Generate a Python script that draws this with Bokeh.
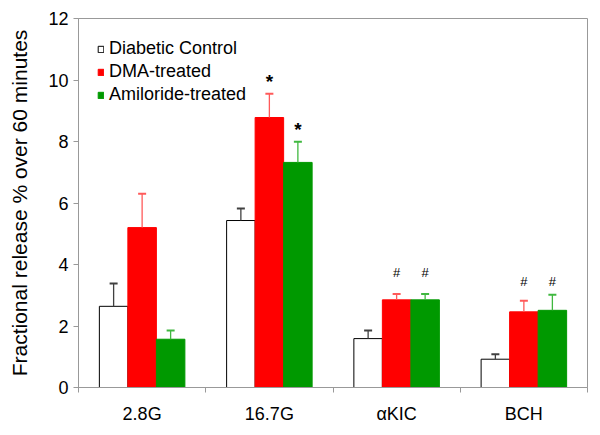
from bokeh.plotting import figure
from bokeh.models import Range1d, FixedTicker, Legend, LegendItem
from bokeh.core.properties import value
from bokeh.embed import file_html
from bokeh.resources import INLINE

categories = ["2.8G", "16.7G", "αKIC", "BCH"]
series_names = ["Diabetic Control", "DMA-treated", "Amiloride-treated"]
control = [2.64, 5.43, 1.59, 0.92]
control_err = [0.74, 0.39, 0.26, 0.16]
dma = [5.20, 8.78, 2.85, 2.46]
dma_err = [1.10, 0.77, 0.19, 0.36]
amiloride = [1.57, 7.32, 2.85, 2.51]
amiloride_err = [0.28, 0.67, 0.19, 0.51]
y_ticks = [0, 2, 4, 6, 8, 10, 12]

# significance marks
mark_cat = [1, 1, 2, 2, 3, 3]
mark_series = [1, 2, 1, 2, 1, 2]
mark_text = ["*", "*", "#", "#", "#", "#"]
mark_y = [10.08, 8.53, 3.76, 3.76, 3.47, 3.47]

FONT = "Liberation Sans"
bar_w = 0.224
fills = ["#ffffff", "#ff0000", "#009900"]
edges = ["#000000", "#ff0000", "#009900"]
err_colors = ["#404040", "#ff5a5a", "#40b840"]
vals = [control, dma, amiloride]
errs = [control_err, dma_err, amiloride_err]

p = figure(width=600, height=435, output_backend="svg", toolbar_location=None,
           x_range=Range1d(0, 4), y_range=Range1d(0, 12),
           min_border_left=78, min_border_right=13, min_border_top=18, min_border_bottom=48)
p.background_fill_color = "white"
p.border_fill_color = "white"
p.outline_line_color = "#999999"
p.xgrid.visible = False
p.ygrid.visible = False

renderers = []
n = len(categories)
for s in range(3):
    xs = [i + 0.5 + (s - 1) * bar_w for i in range(n)]
    r = p.vbar(x=xs, top=vals[s], bottom=0, width=bar_w, fill_color=fills[s],
               line_color=edges[s], line_width=1)
    renderers.append(r)
    ups = [v + e for v, e in zip(vals[s], errs[s])]
    p.segment(x0=xs, y0=vals[s], x1=xs, y1=ups, line_color=err_colors[s], line_width=1.3)
    p.scatter(x=xs, y=ups, marker="dash", size=8, line_color=err_colors[s], line_width=2)

# significance marks
for t, c, s, y in zip(mark_text, mark_cat, mark_series, mark_y):
    x = c + 0.5 + (s - 1) * bar_w
    if t == "*":
        p.text(x=[x], y=[y], text=[t], text_font=value(FONT), text_font_size="19px",
               text_font_style="bold", text_align="center", text_baseline="alphabetic",
               y_offset=4, text_color="#000000")
    else:
        p.text(x=[x], y=[y], text=[t], text_font=value(FONT), text_font_size="13px",
               text_align="center", text_baseline="alphabetic", y_offset=1,
               text_color="#000000")

# axes
p.xaxis.ticker = FixedTicker(ticks=[i + 0.5 for i in range(n)], minor_ticks=list(range(n + 1)))
p.xaxis.major_label_overrides = {i + 0.5: c for i, c in enumerate(categories)}
p.xaxis.major_tick_line_color = None
p.xaxis.major_tick_out = 0
p.xaxis.major_tick_in = 0
p.xaxis.minor_tick_out = 5
p.xaxis.minor_tick_in = 0
p.xaxis.minor_tick_line_color = "#999999"
p.xaxis.axis_line_color = "#999999"
p.xaxis.major_label_standoff = 11
p.xaxis.major_label_text_font = FONT
p.xaxis.major_label_text_font_size = "18px"
p.xaxis.major_label_text_color = "#000000"

p.yaxis.ticker = FixedTicker(ticks=y_ticks, minor_ticks=[])
p.yaxis.major_tick_out = 5
p.yaxis.major_tick_in = 0
p.yaxis.major_tick_line_color = "#999999"
p.yaxis.axis_line_color = "#999999"
p.yaxis.major_label_standoff = 5
p.yaxis.major_label_text_font = FONT
p.yaxis.major_label_text_font_size = "18px"
p.yaxis.major_label_text_color = "#000000"
p.yaxis.axis_label = "Fractional release % over 60 minutes"
p.yaxis.axis_label_text_font = FONT
p.yaxis.axis_label_text_font_size = "21px"
p.yaxis.axis_label_text_font_style = "normal"
p.yaxis.axis_label_text_color = "#000000"
p.yaxis.axis_label_standoff = 14

legend = Legend(items=[LegendItem(label=nm, renderers=[r]) for nm, r in zip(series_names, renderers)],
                location=(19, 282))
legend.glyph_width = 7
legend.glyph_height = 8
legend.label_standoff = 5
legend.label_height = 20
legend.spacing = 2
legend.padding = 0
legend.margin = 0
legend.border_line_alpha = 0
legend.background_fill_alpha = 0
legend.label_text_font = FONT
legend.label_text_font_size = "18px"
legend.label_text_color = "#000000"
p.add_layout(legend)

open("out.html", "w").write(file_html(p, INLINE))
